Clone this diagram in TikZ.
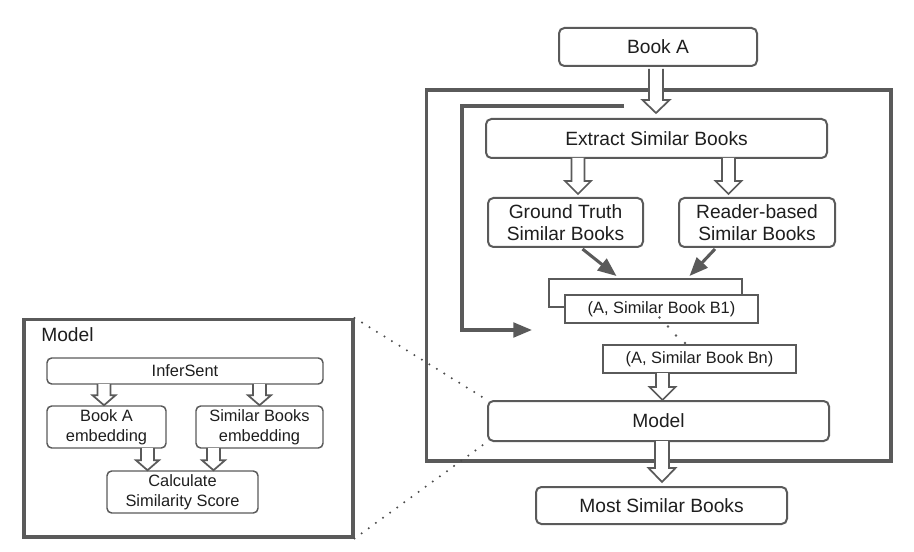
\documentclass[tikz,border=0pt]{standalone}
\usepackage{fontspec}
\setmainfont{Liberation Sans}
\usetikzlibrary{calc,arrows.meta}
\definecolor{lc}{HTML}{5A5A5A}
\definecolor{tc}{HTML}{1E1E1E}
\newcommand{\harr}[5]{%
  \draw[hollow] let \p1=#1, \p2=#2 in
   (\x1-#3*0.75pt,\y1) -- (\x1-#3*0.75pt,\y2+#5*0.75pt) -- (\x1-#4*0.75pt,\y2+#5*0.75pt)
   -- (\x1,\y2) -- (\x1+#4*0.75pt,\y2+#5*0.75pt) -- (\x1+#3*0.75pt,\y2+#5*0.75pt) -- (\x1+#3*0.75pt,\y1);
}
\begin{document}
\begin{tikzpicture}[x=0.75pt,y=-0.75pt,
  big/.style={font=\fontsize{14.4}{16.2}\selectfont},
  small/.style={font=\fontsize{12.3}{15}\selectfont},
  wh/.style 2 args={minimum width=#1*0.75pt, minimum height=#2*0.75pt},
  rbox/.style={draw=lc, line width=1.5pt, rounded corners=4pt, inner sep=0pt, text=tc, align=center, fill=white},
  sbox/.style={draw=lc, line width=1.5pt, inner sep=0pt, text=tc, align=center, fill=white},
  tbox/.style={draw=lc, line width=1.1pt, rounded corners=3.5pt, inner sep=0pt, text=tc, align=center, fill=white},
  frame/.style={draw=lc, line width=2.3pt, inner sep=0pt},
  hollow/.style={draw=lc, line width=1.3pt, fill=white, line join=miter},
  solidarr/.style={draw=lc, line width=2.3pt, -{Triangle[length=14pt,width=11pt]}},
  dotline/.style={draw=lc!85!black, line width=1.7pt, line cap=round, dash pattern=on 0pt off 6.6pt}
]
\useasboundingbox (0,0) rectangle (914,552);

% main frame
\node[frame, wh={464.5}{371}] (mainframe) at (658.75,275.5) {};

% feedback line
\coordinate (fbstart) at (624,106);
\coordinate (fbcorner1) at (462,106);
\coordinate (fbcorner2) at (462,330);
\coordinate (fbend) at (532,330);
\draw[solidarr] (fbstart) -- (fbcorner1) -- (fbcorner2) -- (fbend);

% main nodes
\node[rbox, big, wh={198}{38}] (bookA) at (658,47) {Book A};
\node[rbox, big, wh={341}{39}] (extract) at (656.5,138.5) {Extract Similar Books};
\node[rbox, big, wh={155}{49}] (gt) at (565.5,222.5) {Ground Truth\\Similar Books};
\node[rbox, big, wh={156}{49}] (rb) at (757,222.5) {Reader-based\\Similar Books};
\node[sbox, wh={193}{28}] (back) at (645.5,293) {};
\node[sbox, small, wh={193}{28}] (b1) at (661.5,309) {(A, Similar Book B1)};
\node[sbox, small, wh={193}{28}] (bn) at (699.5,359) {(A, Similar Book Bn)};
\node[rbox, big, wh={341}{40}] (model) at (658.5,421) {Model};
\node[rbox, big, wh={251}{37}] (most) at (661.5,505.5) {Most Similar Books};

% dots between B1 and Bn
\foreach \p in {(659.5,317.5),(668,326.5),(676,335.5),(685,343)}
  \fill[lc] \p circle (1.1pt);

% arrow start points
\coordinate (a1) at (656,69);
\coordinate (a2) at (578,158);
\coordinate (a3) at (728.5,158);
\coordinate (a4) at (662.5,373);
\coordinate (a5) at (662,441);

% hollow arrows (main)
\harr{(a1)}{($(extract.north)+(0,-5)$)}{7}{13.5}{13}
\harr{(a2)}{($(gt.north)+(0,-3)$)}{6.5}{13}{13}
\harr{(a3)}{($(rb.north)+(0,-3)$)}{6.5}{13}{13}
\harr{(a4)}{(model.north)}{6.5}{13}{13}
\harr{(a5)}{($(most.north)+(0,-4)$)}{7}{13.5}{14}

% solid arrows to the stack
\draw[solidarr] ($(gt.south)+(17,1)$) -- ($(back.north)+(-29,-2)$);
\draw[solidarr] ($(rb.south)+(-42,1)$) -- ($(back.north)+(44,-2)$);

% left model box
\node[frame, wh={329}{217.5}] (modelbox) at (188.5,428.25) {};
\node[big, text=tc, anchor=west, inner sep=0pt] (modellabel) at (41,335) {Model};
\node[tbox, small, wh={276}{26}] (infersent) at (185,371) {InferSent};
\node[tbox, small, wh={119}{42}] (bae) at (106.5,427) {Book A\\embedding};
\node[tbox, small, wh={127}{42}] (sbe) at (259.5,427) {Similar Books\\embedding};
\node[tbox, small, wh={151}{42}] (calc) at (182.5,492) {Calculate\\Similarity Score};

\coordinate (s1) at (104,384);
\coordinate (s2) at (259.5,384);
\coordinate (s3) at (147.5,448);
\coordinate (s4) at (213.5,448);
\harr{(s1)}{(bae.north)}{6.5}{11.5}{10}
\harr{(s2)}{(sbe.north)}{6.5}{11.5}{10}
\harr{(s3)}{(calc.north)}{6.5}{11.5}{10}
\harr{(s4)}{(calc.north)}{6.5}{11.5}{10}

% dotted zoom lines
\draw[dotline] (modelbox.north east) -- (model.north west);
\draw[dotline] (modelbox.south east) -- (model.south west);
\end{tikzpicture}
\end{document}
